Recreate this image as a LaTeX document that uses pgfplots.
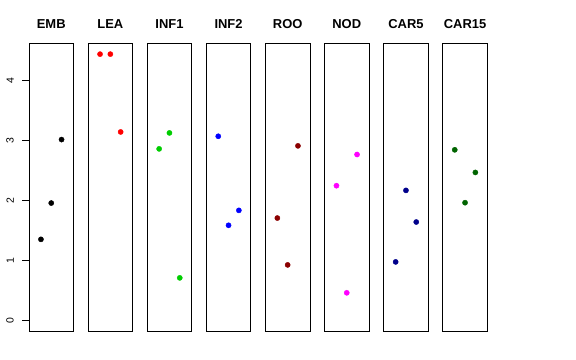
\documentclass[border=0pt]{standalone}
\usepackage{pgfplots}
\pgfplotsset{compat=1.18}
\usepackage{fontspec}
\setmainfont{Liberation Sans}
\definecolor{rgreen}{HTML}{00CD00}
\definecolor{rred}{HTML}{FF0000}
\definecolor{rblue}{HTML}{0000FF}
\definecolor{rmagenta}{HTML}{FF00FF}
\definecolor{rdarkred}{HTML}{8B0000}
\definecolor{rdarkblue}{HTML}{00008B}
\definecolor{rdarkgreen}{HTML}{006400}
\pgfplotsset{
  panel/.style={
    scale only axis, width=44.5bp, height=287.7bp,
    xmin=-0.16, xmax=4.16, ymin=-0.1776, ymax=4.6176,
    xtick=\empty, ytick=\empty,
    axis line style={line width=0.8bp, black},
    title style={font=\fontsize{13}{13}\selectfont\bfseries, at={(0.5,1)}, anchor=base, yshift=9bp, inner sep=0pt},
    anchor=south west, clip=false,
  },
  pts/.style={only marks, mark=*, mark size=2.6bp, color=#1, mark options={fill=#1, draw=#1}},
}
\begin{document}
\begin{tikzpicture}
\path[use as bounding box] (0bp,0bp) rectangle (576bp,360bp);
\begin{axis}[panel, at={(29bp,29bp)}, title={EMB},
  ytick={0,1,2,3,4}, ytick pos=left, tick align=outside, major tick length=7bp,
  ytick style={line width=0.8bp, black},
  /pgf/number format/assume math mode=true,
  yticklabel shift=8bp,
  yticklabel style={rotate=90, anchor=south, font=\fontsize{10.5}{10.5}\selectfont, inner sep=0pt}]
\addplot[pts=black] coordinates {(1,1.35) (2,1.955) (3,3.013)};
\end{axis}
\begin{axis}[panel, at={(88.1bp,29bp)}, title={LEA}]
\addplot[pts=rred] coordinates {(1,4.437) (2,4.437) (3,3.14)};
\end{axis}
\begin{axis}[panel, at={(147.2bp,29bp)}, title={INF1}]
\addplot[pts=rgreen] coordinates {(1,2.858) (2,3.124) (3,0.708)};
\end{axis}
\begin{axis}[panel, at={(206.3bp,29bp)}, title={INF2}]
\addplot[pts=rblue] coordinates {(1,3.068) (2,1.584) (3,1.833)};
\end{axis}
\begin{axis}[panel, at={(265.4bp,29bp)}, title={ROO}]
\addplot[pts=rdarkred] coordinates {(1,1.705) (2,0.924) (3,2.908)};
\end{axis}
\begin{axis}[panel, at={(324.5bp,29bp)}, title={NOD}]
\addplot[pts=rmagenta] coordinates {(1,2.244) (2,0.459) (3,2.764)};
\end{axis}
\begin{axis}[panel, at={(383.7bp,29bp)}, title={CAR5}]
\addplot[pts=rdarkblue] coordinates {(1,0.974) (2,2.166) (3,1.639)};
\end{axis}
\begin{axis}[panel, at={(442.8bp,29bp)}, title={CAR15}]
\addplot[pts=rdarkgreen] coordinates {(1,2.842) (2,1.961) (3,2.465)};
\end{axis}
\end{tikzpicture}
\end{document}
